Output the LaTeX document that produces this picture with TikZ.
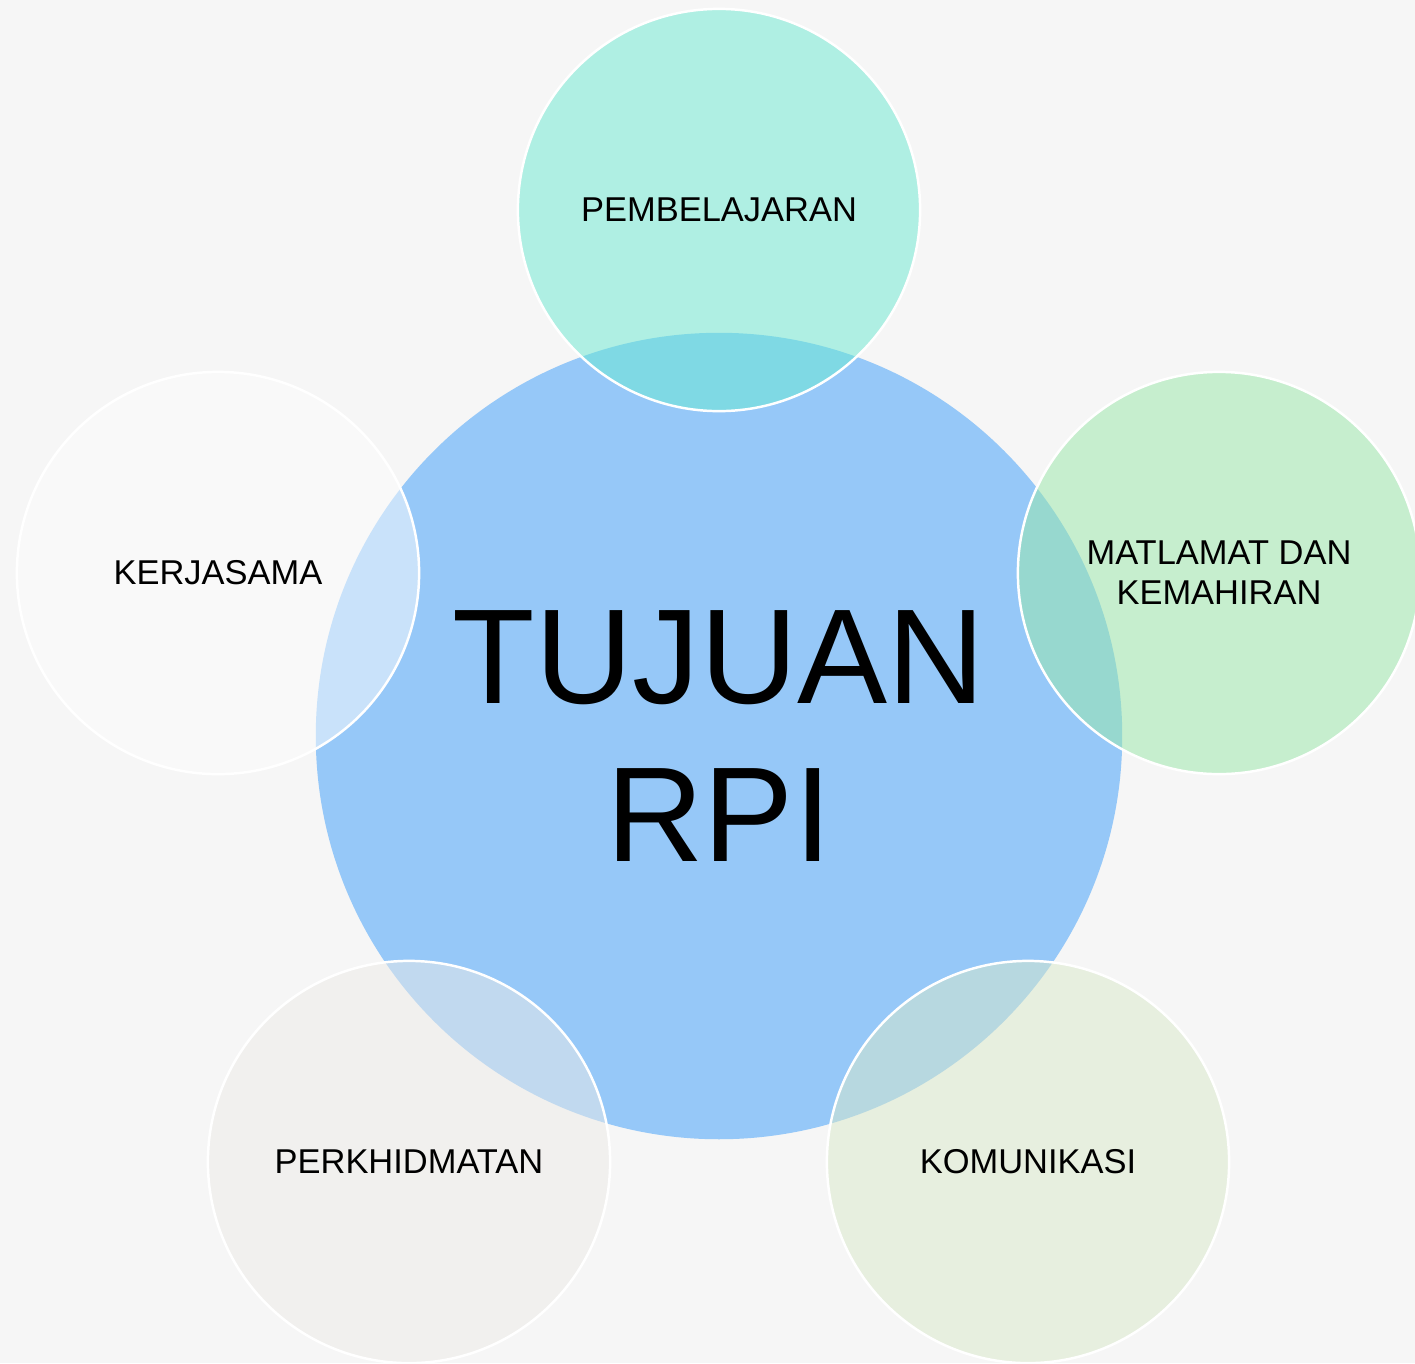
\documentclass[tikz,border=0pt]{standalone}
\usepackage{fontspec}
\setmainfont{Liberation Sans}
\definecolor{bggray}{RGB}{246,246,246}
\definecolor{tujuanblue}{RGB}{150,200,248}
\definecolor{tealfill}{RGB}{106,234,210}
\definecolor{greenfill}{RGB}{152,232,168}
\definecolor{whitefill}{RGB}{252,252,252}
\definecolor{sandfill}{RGB}{237,235,231}
\definecolor{olivefill}{RGB}{217,233,201}

\begin{document}
\begin{tikzpicture}[x=0.01cm,y=-0.01cm,
    tujuan/.style={circle,fill=tujuanblue,minimum size=8.06cm,inner sep=0pt,align=center,
        font=\fontsize{38.4}{44.7}\selectfont},
    aspek/.style={circle,draw=white,line width=0.7pt,fill opacity=0.5,text opacity=1,
        minimum size=4.02cm,inner sep=0pt,align=center,font=\fontsize{9.8}{11.4}\selectfont}]
    \clip (0,0) rectangle (1415,1363);
    \fill[bggray] (0,0) rectangle (1415,1363);

    % bulatan tengah
    \node[tujuan] (T) at (719,736) {TUJUAN\\RPI};

    % bulatan luar
    \node[aspek,fill=tealfill] (P) at (719,210) {PEMBELAJARAN};
    \node[aspek,fill=greenfill] (M) at (1219,573) {MATLAMAT DAN\\KEMAHIRAN};
    \node[aspek,fill=olivefill] (K) at (1028,1162) {KOMUNIKASI};
    \node[aspek,fill=sandfill] (H) at (409,1162) {PERKHIDMATAN};
    \node[aspek,fill=whitefill] (J) at (218,573) {KERJASAMA};
\end{tikzpicture}
\end{document}
